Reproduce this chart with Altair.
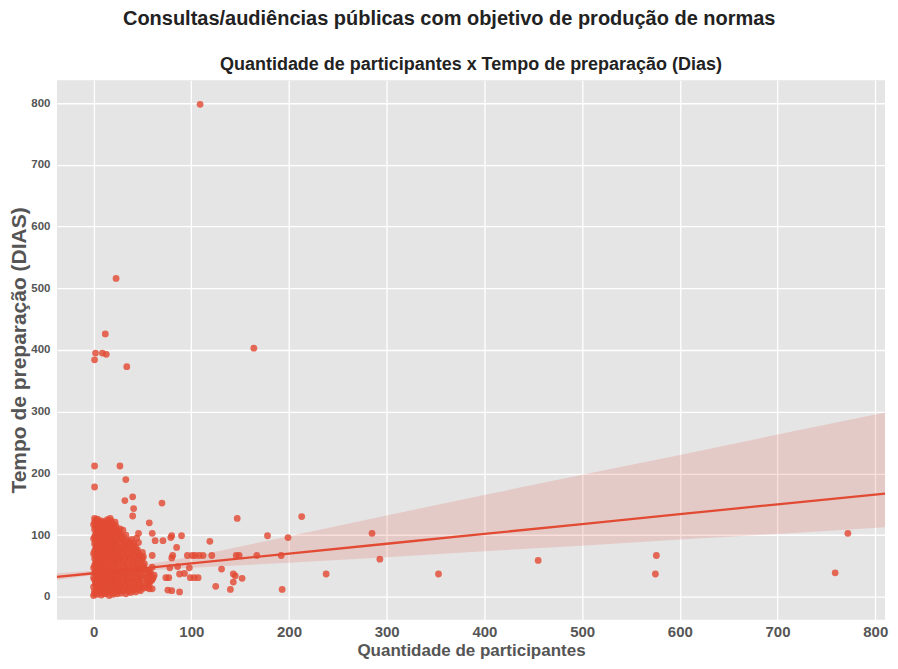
import altair as alt
import pandas as pd

# ---- scatter data (participants, days) ----
cluster_x = [
    0, 1, 0, 2, 0, 1, 0, 2, 1, 0, 2, 1, 0, 2, 1, 0, 2, 1,
    4, 5, 3, 6, 4, 5, 3, 6, 4, 5, 3, 6, 4, 5, 3, 6, 4,
    8, 9, 7, 10, 8, 9, 7, 10, 8, 9, 7, 10, 8, 9, 7, 10, 8,
    12, 13, 11, 14, 12, 13, 11, 14, 12, 13, 11, 14, 12, 13, 11, 14,
    16, 17, 15, 18, 16, 17, 15, 18, 16, 17, 15, 18, 16, 17, 15, 18, 17,
    20, 21, 19, 22, 20, 21, 19, 22, 20, 21, 19, 22, 20, 21, 19, 22,
    24, 25, 23, 26, 24, 25, 23, 26, 24, 25, 23, 26, 24, 25, 23,
    28, 29, 27, 30, 28, 31, 29, 27, 30, 28, 31, 29, 27, 30,
    33, 34, 32, 35, 33, 36, 34, 32, 35, 33, 36, 34, 33,
    38, 39, 37, 40, 38, 41, 39, 37, 40, 38, 41, 39,
    43, 44, 42, 45, 43, 46, 44, 42, 45, 43, 46, 44,
    48, 49, 47, 50, 48, 51, 49, 47, 50,
    54, 56, 55, 58, 53, 57, 60, 62,
    1, 3, 2, 1, 3, 2, 1, 3, 2, 1, 3, 2, 1, 3, 2, 1,
    5, 7, 6, 5, 7, 6, 5, 7, 6, 5, 7, 6, 5, 7, 6, 5,
    10, 11, 9, 10, 11, 9, 10, 11, 9, 10, 11, 9, 10, 11, 9, 10,
    14, 15, 13, 14, 15, 13, 14, 15, 13, 14, 15, 13, 14, 15, 13, 14,
    18, 19, 17, 18, 19, 17, 18, 19, 17, 18, 19, 17, 18, 19, 17, 18,
    22, 23, 21, 22, 23, 21, 22, 23, 21, 22, 23, 21, 22, 23, 21,
    26, 27, 25, 26, 27, 25, 26, 27, 25, 26, 27, 25, 26, 27,
    31, 32, 30, 31, 32, 30, 31, 32, 30, 31, 32, 30,
    36, 37, 35, 36, 37, 35, 36, 37, 35, 36, 37,
    41, 42, 40, 41, 42, 40, 41, 42, 40, 41,
    46, 47, 45, 46, 47, 45, 46, 47, 45,
    51, 52, 50, 53, 51, 52, 50,
    57, 59, 56, 58, 60, 55, 61,
]
cluster_y = [
    2, 9, 16, 24, 31, 39, 47, 55, 62, 70, 78, 86, 94, 101, 109, 117, 124, 127,
    4, 12, 20, 27, 35, 43, 51, 58, 66, 74, 82, 90, 97, 105, 113, 120, 126,
    3, 10, 18, 26, 33, 41, 49, 57, 64, 72, 80, 88, 95, 103, 111, 118, 123,
    5, 13, 21, 29, 36, 44, 52, 60, 67, 75, 83, 91, 99, 107, 115, 122,
    2, 11, 19, 27, 34, 42, 50, 58, 66, 73, 81, 89, 96, 104, 112, 119, 127,
    4, 12, 20, 28, 35, 43, 51, 59, 67, 74, 82, 90, 98, 106, 113, 121,
    5, 13, 21, 29, 37, 45, 53, 61, 68, 76, 84, 92, 99, 107, 114,
    6, 14, 22, 30, 38, 46, 54, 62, 70, 78, 86, 94, 101, 108,
    5, 13, 21, 29, 37, 45, 53, 61, 69, 77, 85, 92, 100,
    7, 15, 23, 31, 39, 47, 55, 63, 71, 79, 87, 93,
    8, 16, 24, 32, 40, 48, 56, 64, 72, 80, 88, 95,
    10, 18, 26, 34, 42, 50, 58, 66, 72,
    15, 22, 30, 36, 44, 40, 28, 35,
    5, 12, 20, 28, 35, 43, 51, 58, 66, 74, 82, 90, 97, 105, 113, 121,
    7, 15, 23, 31, 39, 47, 54, 62, 70, 78, 86, 93, 101, 109, 116, 123,
    6, 14, 22, 30, 37, 45, 53, 61, 68, 76, 84, 92, 99, 107, 114, 121,
    9, 17, 25, 32, 40, 48, 56, 64, 71, 79, 87, 95, 103, 111, 118, 125,
    6, 15, 23, 30, 38, 46, 54, 62, 69, 77, 85, 93, 100, 108, 116, 123,
    8, 16, 24, 32, 39, 47, 55, 63, 71, 78, 86, 94, 102, 110, 117,
    9, 17, 25, 33, 41, 49, 57, 64, 72, 80, 88, 96, 103, 110,
    10, 18, 26, 34, 42, 50, 58, 66, 74, 82, 90, 97,
    9, 17, 25, 33, 41, 49, 57, 65, 73, 81, 89,
    11, 19, 27, 35, 43, 51, 59, 67, 75, 83,
    12, 20, 28, 36, 44, 52, 60, 68, 76,
    14, 22, 30, 38, 46, 54, 62,
    19, 26, 33, 40, 48, 24, 31,
]
sparse_x = [
    109, 23, 12, 2, 9, 13, 1, 34, 164,
    1, 27, 33, 1, 40, 41, 32, 40, 70, 57, 46, 60, 63, 71, 79, 80, 90, 85,
    119, 147, 178, 199, 213,
    81, 96, 101, 104, 108, 112, 121, 146, 149, 167, 192, 80, 60, 51,
    131, 88, 93, 98, 86, 78, 77, 99, 103, 107, 143, 145, 152, 125, 140,
    143, 193, 76, 80, 88, 57, 60, 74,
    285, 293, 238, 353, 455, 576, 575, 759, 772,
]
sparse_y = [
    798, 516, 426, 395, 395, 393, 384, 373, 403,
    212, 212, 190, 178, 162, 143, 156, 131, 152, 120, 103, 103, 91, 91, 96, 99, 99, 80,
    90, 127, 99, 96, 130,
    67, 67, 67, 67, 67, 67, 67, 67, 67, 67, 67, 63, 67, 65,
    45, 37, 38, 47, 49, 47, 31, 31, 31, 31, 37, 34, 30, 17, 12,
    24, 12, 11, 10, 8, 13, 13, 31,
    103, 61, 37, 37, 59, 67, 37, 39, 103,
]

# ---- regression line and its confidence band ----
fit_x = [-37.5, 0, 25, 50, 100, 200, 300, 400, 500, 600, 700, 810]
fit_y = [32.2, 38.2, 42.2, 46.2, 54.1, 70.1, 86.0, 102.0, 117.9, 133.9, 149.9, 167.4]
ci_low = [27.2, 35.2, 39.2, 42.2, 47.1, 55.1, 64.0, 74.0, 82.9, 92.9, 101.9, 112.9]
ci_high = [38.2, 42.2, 45.2, 51.2, 65.1, 98.1, 132.0, 165.0, 197.9, 229.9, 262.9, 298.9]

x_ticks = [0, 100, 200, 300, 400, 500, 600, 700, 800]
y_ticks = [0, 100, 200, 300, 400, 500, 600, 700, 800]

RED = "#E24A33"
FONT = "Liberation Sans"

pts = pd.DataFrame({"x": cluster_x + sparse_x, "y": cluster_y + sparse_y})
band = pd.DataFrame({"x": fit_x, "fit": fit_y, "lo": ci_low, "hi": ci_high})

xscale = alt.Scale(domain=[-37.5, 810], nice=False, zero=False)
yscale = alt.Scale(domain=[-37, 837], nice=False, zero=False)

x_enc = alt.X(
    "x:Q", scale=xscale,
    axis=alt.Axis(values=x_ticks, title="Quantidade de participantes",
                  labelFontSize=15, labelPadding=5, titlePadding=3,
                  titleFontSize=17),
)
y_enc = alt.Y(
    "y:Q", scale=yscale,
    axis=alt.Axis(values=y_ticks, title="Tempo de preparação (DIAS)",
                  labelFontSize=11.5, labelPadding=7, titlePadding=1,
                  titleFontSize=21),
)

points = alt.Chart(pts).mark_circle(size=46, opacity=0.82, color=RED).encode(
    x=x_enc, y=y_enc
)
area = alt.Chart(band).mark_area(color=RED, opacity=0.17).encode(
    x=alt.X("x:Q", scale=xscale),
    y=alt.Y("lo:Q", scale=yscale),
    y2="hi:Q",
)
line = alt.Chart(band).mark_line(color=RED, strokeWidth=2.3).encode(
    x=alt.X("x:Q", scale=xscale),
    y=alt.Y("fit:Q", scale=yscale),
)

inner = alt.layer(points, area, line).properties(
    width=829,
    height=540,
    title=alt.TitleParams(
        "Quantidade de participantes x Tempo de preparação (Dias)",
        fontSize=18, font=FONT, fontWeight="bold", color="#222222",
        anchor="middle", offset=6,
    ),
)

chart = alt.vconcat(inner).properties(
    title=alt.TitleParams(
        "Consultas/audiências públicas com objetivo de produção de normas",
        fontSize=20, font=FONT, fontWeight="bold", color="#222222",
        anchor="middle", offset=27,
    ),
    padding={"left": 0, "top": 1, "right": 0, "bottom": 0},
).configure_view(
    fill="#E5E5E5", strokeWidth=0
).configure_axis(
    grid=True, gridColor="#FFFFFF", gridWidth=1.3, domain=False, ticks=False,
    labelFont=FONT, labelFontWeight="bold", labelColor="#555555",
    titleFont=FONT, titleFontWeight="bold", titleColor="#555555",
)

chart.save("out.html", embed_options={"renderer": "svg", "actions": False})
